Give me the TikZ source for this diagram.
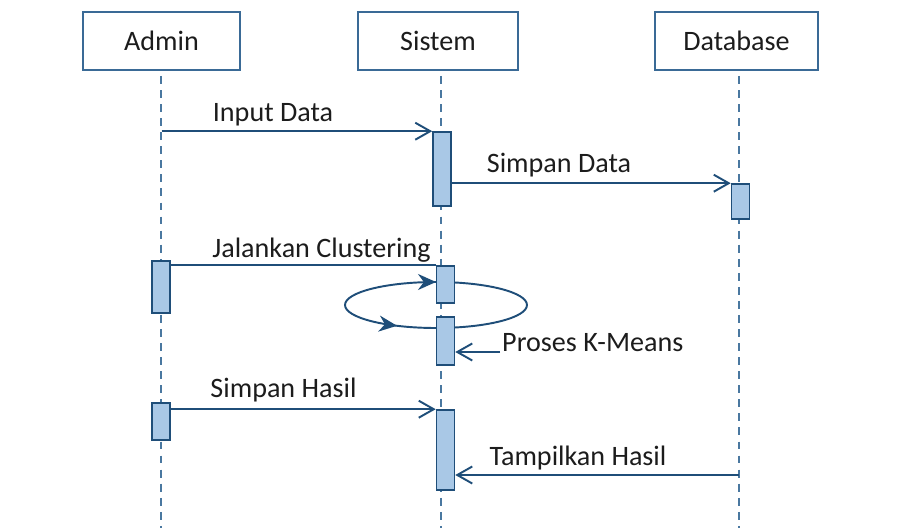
\documentclass[tikz,border=0pt]{standalone}
\usepackage{fontspec}
\setmainfont{Carlito}
\usetikzlibrary{arrows.meta,decorations.markings}

\definecolor{linecol}{HTML}{1F4E79}
\definecolor{boxcol}{HTML}{3A6A96}
\definecolor{lifecol}{HTML}{4A78A0}
\definecolor{barcol}{HTML}{A9C8E6}
\definecolor{txtcol}{HTML}{1C1C1C}

\begin{document}
\begin{tikzpicture}[
    font=\fontsize{16}{19}\selectfont, text=txtcol,
    actor/.style={draw=boxcol, line width=1.1pt, fill=white, minimum height=1.16cm},
    bar/.style={draw=linecol, fill=barcol, line width=0.9pt, minimum width=0.36cm, inner sep=0pt},
    msg/.style={draw=linecol, line width=1.1pt, -{Straight Barb[length=3mm, width=3.4mm]}},
    lifeline/.style={draw=lifecol, line width=0.9pt, dash pattern=on 4.5pt off 3.5pt},
    loopline/.style={draw=linecol, line width=1.1pt}
]
    \useasboundingbox (0,0) rectangle (18.02,10.56);

    % Actors
    \node[actor, minimum width=3.14cm] (admin) at (3.23,9.74) {Admin};
    \node[actor, minimum width=3.2cm] (sistem) at (8.76,9.74) {Sistem};
    \node[actor, minimum width=3.26cm] (database) at (14.73,9.74) {Database};

    % Lifelines
    \draw[lifeline] (3.22,9.04) -- (3.22,0);
    \draw[lifeline] (8.82,9.04) -- (8.82,0);
    \draw[lifeline] (14.78,9.04) -- (14.78,0);

    % Loop of K-Means
    \draw[loopline, postaction={decorate, decoration={markings,
        mark=at position 0.5 with {\arrow{Stealth[length=3.6mm, width=3.2mm]}}}}]
        (6.90,4.46) arc[start angle=180, end angle=0, x radius=1.82, y radius=0.46];
    \draw[loopline, postaction={decorate, decoration={markings,
        mark=at position 0.3 with {\arrow{Stealth[length=3.6mm, width=3.2mm]}}}}]
        (6.90,4.46) arc[start angle=180, end angle=360, x radius=1.82, y radius=0.46];

    % Activation bars
    \node[bar, minimum height=1.48cm] (s1) at (8.84,7.18) {};
    \node[bar, minimum height=0.70cm] (d1) at (14.81,6.53) {};
    \node[bar, minimum height=1.04cm] (a1) at (3.22,4.82) {};
    \node[bar, minimum height=0.74cm] (s2) at (8.91,4.87) {};
    \node[bar, minimum height=0.96cm] (s3) at (8.91,3.74) {};
    \node[bar, minimum height=0.74cm] (a2) at (3.22,2.13) {};
    \node[bar, minimum height=1.60cm] (s4) at (8.91,1.56) {};

    % Labels
    \node (input) at (5.46,8.26) {Input Data};
    \node (simpandata) at (11.18,7.26) {Simpan Data};
    \node (jalankan) at (6.43,5.56) {Jalankan Clustering};
    \node[anchor=west] (kmeans) at (9.92,3.70) {Proses K-Means};
    \node (simpanhasil) at (5.67,2.76) {Simpan Hasil};
    \node (tampilkan) at (11.56,1.40) {Tampilkan Hasil};

    % Messages
    \coordinate (kmstart) at (10.0,3.52);
    \coordinate (dbret) at (14.78,1.06);
    \draw[msg] (admin.south |- s1.north west) -- (s1.north west);
    \draw[msg] (s1.east |- d1.north west) -- (d1.north west);
    \draw[loopline] (a1.east |- s2.north west) -- (s2.north west);
    \draw[msg] (kmstart) -- (s3.east |- kmstart);
    \draw[msg] (a2.east |- s4.north west) -- (s4.north west);
    \draw[msg] (dbret) -- (s4.east |- dbret);

\end{tikzpicture}
\end{document}
